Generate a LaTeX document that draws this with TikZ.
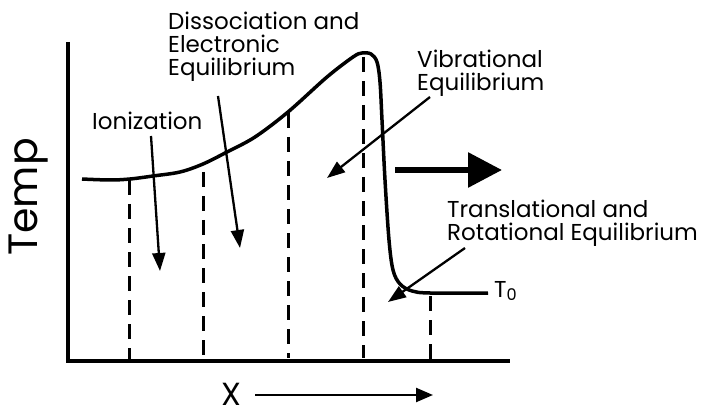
\documentclass[tikz,border=0pt]{standalone}
\usepackage{fontspec}
\setmainfont{Poppins}
\usetikzlibrary{arrows.meta}
\tikzset{
axis/.style = {line width=3.5pt},
profile/.style = {line width=3.5pt, line join=round},
guideline/.style = {line width=3pt, dash pattern=on 15pt off 9pt},
pointer/.style = {line width=2.3pt, -{Triangle[length=18pt,width=13pt]}},
words/.style = {font=\fontsize{23}{23}\selectfont, inner sep=0pt, align=left}
}
\newcommand{\guide}[3]{\draw[guideline] (#1,#2) -- (#1,#3);}

\begin{document}
\begin{tikzpicture}[x=1pt,y=-1pt]
        \useasboundingbox (0,0) rectangle (702,417);
        % axes
        \coordinate (origin) at (68,361);
        \coordinate (ytop) at (68,42);
        \coordinate (xend) at (510,361);
        \draw[axis] (ytop) -- (origin) -- (xend);
        % temperature profile
        \draw[profile] plot[smooth, tension=0.55] coordinates {
          (82,179) (110,180) (130,179) (153,176) (180,172) (203,164)
          (227,152) (255,137) (288,112) (327,77) (353,57) (362,53)
          (371,54) (377,62) (380,82) (382,120) (385,180) (389,240)
          (393,270) (400,284) (412,291) (430,293) (488,293)};
        % zone boundaries
        \guide{129}{180}{361};
        \guide{203}{172}{358};
        \guide{288}{113}{358};
        \guide{363}{57}{358};
        \guide{430}{296}{361};
        % labels
        \node[words, anchor=base west] (ion) at (92,130) {Ionization};
        \node[words, anchor=north west] (dis) at (168,12) {Dissociation and\\Electronic\\Equilibrium};
        \node[words, anchor=north west] (vib) at (417,50) {Vibrational\\Equilibrium};
        \node[words, anchor=north west] (trans) at (447,200) {Translational and\\Rotational Equilibrium};
        \node[words, anchor=base west] (tzero) at (494,297) {T\textsubscript{0}};
        \node[rotate=90, font=\fontsize{41}{41}\selectfont, inner sep=0pt] (temp) at (29,197) {Temp};
        \node[font=\fontsize{32}{32}\selectfont, inner sep=0pt, anchor=base] (xlab) at (231,405) {X};
        % pointers
        \coordinate (ionS) at (151,136);
        \coordinate (ionT) at (160,271);
        \coordinate (disS) at (218,96);
        \coordinate (disT) at (240,248);
        \coordinate (vibS) at (430,97);
        \coordinate (vibT) at (327,178);
        \coordinate (transS) at (465,248);
        \coordinate (transT) at (388,302);
        \draw[pointer] (ionS) -- (ionT);
        \draw[pointer] (disS) -- (disT);
        \draw[pointer] (vibS) -- (vibT);
        \draw[pointer] (transS) -- (transT);
        % flow direction
        \coordinate (flowA) at (395,170);
        \coordinate (flowB) at (502,170);
        \draw[line width=6pt, -{Triangle[length=34pt,width=34pt]}] (flowA) -- (flowB);
        \coordinate (xarrA) at (255,395);
        \coordinate (xarrB) at (433,395);
        \draw[line width=2.3pt, -{Triangle[length=17pt,width=14pt]}] (xarrA) -- (xarrB);
\end{tikzpicture}
\end{document}
